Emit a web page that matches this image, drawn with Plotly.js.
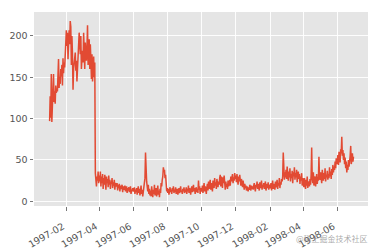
<!DOCTYPE html>
<html>
<head>
<meta charset="utf-8">
<script src="https://cdn.plot.ly/plotly-3.0.1.min.js"></script>
<style>
  html, body { margin: 0; padding: 0; background: #ffffff; }
  #chart { width: 378px; height: 250px; }
</style>
</head>
<body>
<div id="chart"></div>
<script>
// Daily values, 1997-01-01 .. 1998-06-30, one array per month
var jan97 = [97, 127, 101, 154, 96, 118, 125, 154, 120, 133, 118, 140, 131, 136, 133, 150, 172, 137, 150, 142, 160, 151, 165, 140, 173, 155, 168, 162, 180, 192, 207];
var feb97 = [188, 204, 172, 200, 207, 190, 218, 211, 165, 200, 178, 135, 160, 172, 168, 180, 158, 170, 145, 165, 185, 198, 204, 190, 178, 200, 160, 172];
var mar97 = [182, 168, 204, 175, 160, 192, 178, 170, 185, 213, 165, 180, 196, 160, 190, 172, 148, 178, 145, 160, 175, 150, 168, 34, 28, 18, 30, 25, 36, 22, 31];
var apr97 = [24, 36, 18, 30, 22, 33, 15, 28, 20, 32, 25, 14, 30, 22, 27, 17, 31, 20, 26, 15, 24, 21, 28, 16, 23, 19, 26, 14, 22, 20];
var may97 = [18, 22, 13, 20, 16, 21, 12, 19, 15, 17, 20, 11, 18, 14, 16, 19, 12, 15, 18, 10, 16, 13, 17, 11, 15, 18, 9, 14, 12, 16, 13];
var jun97 = [12, 17, 9, 14, 11, 16, 8, 13, 18, 10, 15, 7, 12, 19, 9, 14, 6, 11, 16, 22, 28, 59, 30, 24, 18, 12, 20, 9, 15, 7];
var jul97 = [13, 6, 18, 10, 5, 14, 9, 20, 7, 12, 16, 6, 11, 19, 8, 13, 5, 15, 10, 22, 18, 26, 30, 41, 36, 38, 28, 32, 22, 12, 16];
var aug97 = [10, 15, 8, 13, 17, 11, 14, 9, 16, 12, 18, 10, 14, 11, 17, 9, 13, 15, 8, 12, 16, 10, 14, 18, 11, 13, 9, 15, 12, 17, 10];
var sep97 = [14, 11, 17, 9, 15, 12, 19, 10, 16, 13, 8, 15, 18, 11, 14, 20, 12, 16, 9, 13, 17, 11, 15, 10, 25, 14, 18, 9, 16, 12];
var oct97 = [13, 19, 10, 16, 22, 12, 18, 14, 9, 17, 21, 13, 24, 15, 19, 26, 14, 22, 18, 12, 25, 20, 16, 28, 19, 23, 15, 27, 21, 17, 24];
var nov97 = [20, 28, 32, 18, 30, 24, 16, 29, 22, 31, 19, 14, 24, 17, 21, 15, 25, 18, 22, 26, 19, 30, 24, 28, 33, 22, 29, 25, 34, 27];
var dec97 = [31, 23, 33, 26, 20, 30, 24, 32, 28, 19, 27, 22, 17, 25, 20, 14, 21, 16, 19, 13, 18, 15, 12, 17, 14, 20, 16, 13, 19, 15, 18];
var jan98 = [14, 19, 22, 16, 12, 20, 17, 24, 15, 21, 18, 13, 23, 19, 16, 25, 14, 20, 17, 22, 15, 19, 24, 13, 18, 21, 16, 23, 14, 20, 17];
var feb98 = [16, 22, 13, 19, 25, 15, 21, 18, 14, 24, 17, 20, 26, 15, 22, 19, 28, 16, 23, 20, 27, 24, 30, 59, 32, 26, 35, 29];
var mar98 = [38, 27, 42, 31, 25, 36, 29, 40, 24, 33, 28, 37, 22, 35, 30, 41, 26, 34, 29, 38, 23, 31, 36, 27, 33, 21, 30, 25, 34, 19, 28];
var apr98 = [22, 17, 28, 20, 15, 26, 19, 30, 16, 24, 21, 18, 27, 20, 32, 65, 28, 22, 35, 19, 26, 30, 18, 24, 33, 21, 29, 25, 54, 30];
var may98 = [26, 35, 28, 22, 38, 30, 25, 34, 27, 40, 24, 32, 29, 37, 26, 33, 28, 41, 30, 36, 27, 39, 32, 44, 35, 42, 38, 48, 40, 52, 45];
var jun98 = [48, 56, 44, 60, 52, 47, 63, 58, 78, 55, 62, 50, 58, 45, 53, 40, 48, 35, 44, 38, 50, 42, 47, 55, 67, 45, 50, 58, 48, 54];

var monthKeys = ['1997-01','1997-02','1997-03','1997-04','1997-05','1997-06','1997-07','1997-08','1997-09','1997-10','1997-11','1997-12',
                 '1998-01','1998-02','1998-03','1998-04','1998-05','1998-06'];
var monthValues = [jan97, feb97, mar97, apr97, may97, jun97, jul97, aug97, sep97, oct97, nov97, dec97,
                   jan98, feb98, mar98, apr98, may98, jun98];

var xTickLabels = ['1997-02','1997-04','1997-06','1997-08','1997-10','1997-12','1998-02','1998-04','1998-06'];
var yTickValues = [0, 50, 100, 150, 200];

var dates = [], values = [];
monthKeys.forEach(function (m, i) {
  monthValues[i].forEach(function (v, d) {
    var day = (d + 1 < 10 ? '0' : '') + (d + 1);
    dates.push(m + '-' + day);
    values.push(v);
  });
});

var tickFont = { family: 'DejaVu Sans, sans-serif', size: 9.5, color: '#555555' };

var trace = {
  x: dates, y: values, type: 'scatter', mode: 'lines',
  line: { color: '#E24A33', width: 1.5 },
  hoverinfo: 'skip'
};

var layout = {
  width: 378, height: 250,
  margin: { l: 34, r: 10.3, t: 11.7, b: 44.3, pad: 0 },
  paper_bgcolor: '#ffffff',
  plot_bgcolor: '#E5E5E5',
  showlegend: false,
  xaxis: {
    type: 'date',
    range: ['1996-12-04', '1998-07-26'],
    tickvals: xTickLabels.map(function (t) { return t + '-01'; }),
    ticktext: xTickLabels,
    tickangle: -30,
    ticklabelstandoff: 7,
    ticklabelshift: -4,
    ticks: 'outside', ticklen: 3.5, tickwidth: 0.8, tickcolor: '#555555',
    showgrid: true, gridcolor: '#ffffff', gridwidth: 0.9,
    zeroline: false, showline: false,
    tickfont: tickFont
  },
  yaxis: {
    range: [-5.7, 229],
    tickvals: yTickValues,
    ticktext: yTickValues.map(String),
    ticks: 'outside', ticklen: 3.5, tickwidth: 0.8, tickcolor: '#555555',
    showgrid: true, gridcolor: '#ffffff', gridwidth: 0.9,
    zeroline: false, showline: false,
    tickfont: tickFont
  },
  annotations: [{
    text: '@稀土掘金技术社区',
    xref: 'paper', yref: 'paper',
    x: 1.007, y: -0.165, xanchor: 'right', yanchor: 'middle',
    showarrow: false,
    font: { family: 'Noto Sans CJK SC, sans-serif', size: 8, color: 'rgba(140,140,140,0.75)' }
  }]
};

Plotly.newPlot('chart', [trace], layout, { staticPlot: true, displayModeBar: false });
</script>
</body>
</html>
